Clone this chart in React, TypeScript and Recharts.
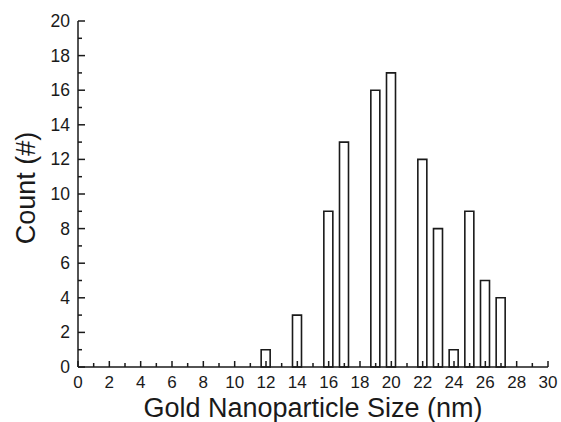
import { Bar, BarChart, XAxis, YAxis, Label } from "recharts"

const sizes = [12, 14, 16, 17, 19, 20, 22, 23, 24, 25, 26, 27]
const counts = [1, 3, 9, 13, 16, 17, 12, 8, 1, 9, 5, 4]
const xTicks = [0, 1, 2, 3, 4, 5, 6, 7, 8, 9, 10, 11, 12, 13, 14, 15, 16, 17, 18, 19, 20, 21, 22, 23, 24, 25, 26, 27, 28, 29, 30]
const yTicks = [0, 1, 2, 3, 4, 5, 6, 7, 8, 9, 10, 11, 12, 13, 14, 15, 16, 17, 18, 19, 20]

const data = sizes.map((size, i) => ({ size, count: counts[i] }))

const font = '"Liberation Sans", Arial, sans-serif'
const ink = "#1a1a1a"

// ticks point into the plot; only even values get a label
function XTick({ x, y, payload }: any) {
  const major = payload.value % 2 === 0
  return (
    <g>
      <line x1={x} x2={x} y1={y} y2={y - (major ? 6 : 4)} stroke={ink} strokeWidth={1.5} />
      {major && (
        <text x={x} y={y + 20.5} textAnchor="middle" fontSize={17} fill={ink} fontFamily={font}>
          {payload.value}
        </text>
      )}
    </g>
  )
}

function YTick({ x, y, payload }: any) {
  const major = payload.value % 2 === 0
  return (
    <g>
      <line x1={x} x2={x + (major ? 7 : 4)} y1={y} y2={y} stroke={ink} strokeWidth={1.5} />
      {major && (
        <text x={x - 8} y={y + 6} textAnchor="end" fontSize={17.5} fill={ink} fontFamily={font}>
          {payload.value}
        </text>
      )}
    </g>
  )
}

function YTitle({ viewBox }: any) {
  const cy = viewBox.y + viewBox.height / 2 - 6
  return (
    <text x={35} y={cy} transform={`rotate(-90 35 ${cy})`} textAnchor="middle" fontSize={27} fill={ink} fontFamily={font}>
      Count (#)
    </text>
  )
}

export default function App() {
  return (
    <div style={{ position: "absolute", left: 0, top: 0, background: "#fff" }}>
      <BarChart width={561} height={422} data={data} margin={{ top: 21, right: 13, left: 0, bottom: 0 }}>
        <XAxis
          dataKey="size"
          type="number"
          domain={[0, 30]}
          ticks={xTicks}
          interval={0}
          tickSize={0}
          tickMargin={0}
          tick={<XTick />}
          tickLine={false}
          axisLine={{ stroke: ink, strokeWidth: 1.5 }}
          height={55}
        >
          <Label value="Gold Nanoparticle Size (nm)" position="insideBottom" offset={5.5} fontSize={27} fill={ink} fontFamily={font} />
        </XAxis>
        <XAxis xAxisId="top" orientation="top" type="number" domain={[0, 30]} tick={false} tickLine={false} axisLine={{ stroke: ink, strokeWidth: 1.5 }} height={0} />
        <YAxis
          type="number"
          domain={[0, 20]}
          ticks={yTicks}
          interval={0}
          tickSize={0}
          tickMargin={0}
          tick={<YTick />}
          tickLine={false}
          axisLine={{ stroke: ink, strokeWidth: 1.5 }}
          width={78}
        >
          <Label content={<YTitle />} />
        </YAxis>
        <YAxis yAxisId="right" orientation="right" type="number" domain={[0, 20]} tick={false} tickLine={false} axisLine={{ stroke: ink, strokeWidth: 1.5 }} width={0} />
        <Bar dataKey="count" fill="#fff" stroke={ink} strokeWidth={1.6} barSize={9} isAnimationActive={false} />
      </BarChart>
    </div>
  )
}
